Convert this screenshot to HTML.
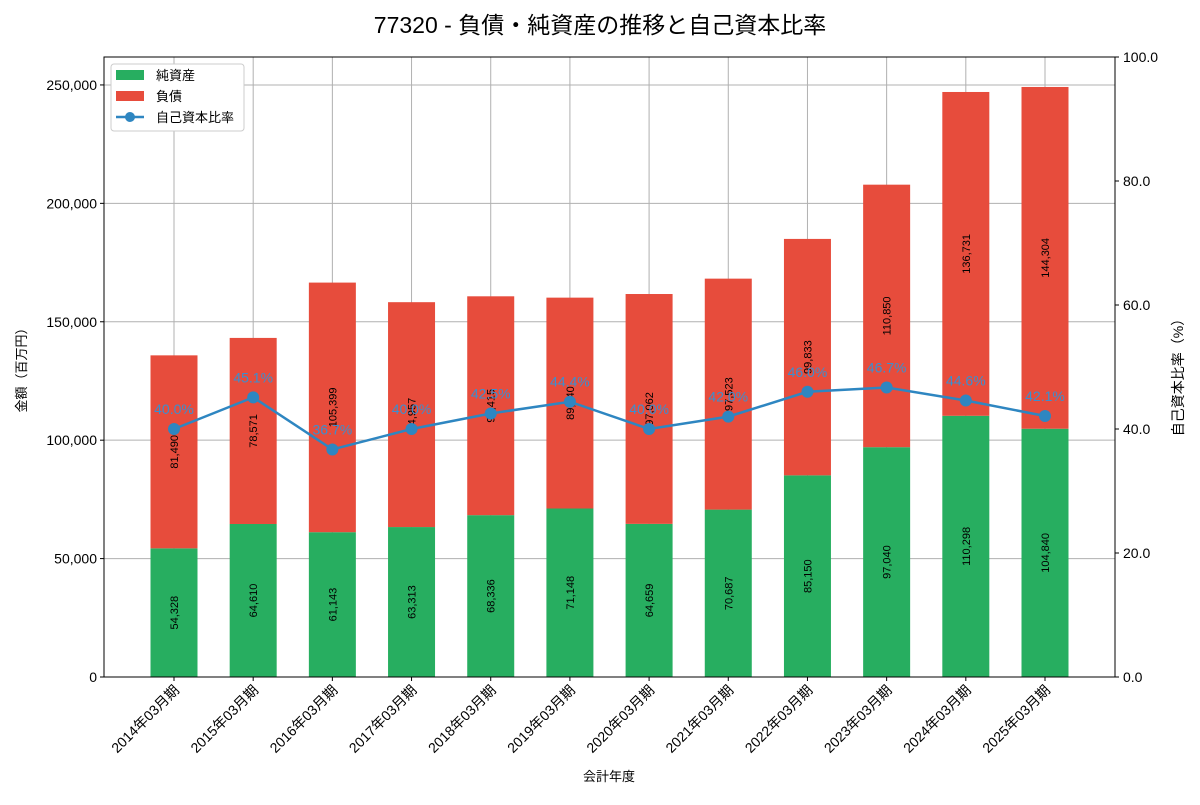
<!DOCTYPE html>
<html><head><meta charset="utf-8"><style>
body{margin:0;background:#fff;font-family:"Liberation Sans","Noto Sans CJK JP",sans-serif;}
</style></head><body>
<svg id="c" width="1200" height="800" xmlns="http://www.w3.org/2000/svg" font-family="Liberation Sans, Noto Sans CJK JP, sans-serif"></svg>
<script>
const categories=["2014年03月期","2015年03月期","2016年03月期","2017年03月期","2018年03月期","2019年03月期","2020年03月期","2021年03月期","2022年03月期","2023年03月期","2024年03月期","2025年03月期"];
const equity=[54328,64610,61143,63313,68336,71148,64659,70687,85150,97040,110298,104840];
const liabilities=[81490,78571,105399,94957,92415,89040,97062,97523,99833,110850,136731,144304];
const ratio=[40.0,45.1,36.7,40.0,42.5,44.4,40.0,42.0,46.0,46.7,44.6,42.1];
const leftTicks=[0,50000,100000,150000,200000,250000];
const rightTicks=[0,20,40,60,80,100];
const L=104,R=1115,T=57,B=677,YMAX=261800;
const svg=document.getElementById('c');const NS='http://www.w3.org/2000/svg';
function el(t,a,txt){const e=document.createElementNS(NS,t);for(const k in a)e.setAttribute(k,a[k]);if(txt!==undefined)e.textContent=txt;svg.appendChild(e);return e;}
const y=v=>B-v/YMAX*(B-T);
const yr=v=>B-v/100*(B-T);
const X0=174,X1=1045;
const x=i=>X0+(X1-X0)*i/(categories.length-1);
const fmt=v=>v.toLocaleString('en-US');
let t=el('text',{x:600,y:33,'font-size':23,'text-anchor':'middle'},'77320 - 負債・純資産の推移と自己資本比率');

categories.forEach((c,i)=>{let g=el('line',{x1:x(i),x2:x(i),y1:T,y2:B,stroke:'#b0b0b0','stroke-width':1});});
leftTicks.forEach(v=>{let g=el('line',{x1:L,x2:R,y1:y(v),y2:y(v),stroke:'#b0b0b0','stroke-width':1});
let tk=el('line',{x1:L-4,x2:L,y1:y(v),y2:y(v),stroke:'#000'});
let l=el('text',{x:L-7,y:y(v)+5,'font-size':14,'text-anchor':'end'},fmt(v));});
rightTicks.forEach(v=>{let tk=el('line',{x1:R,x2:R+4,y1:yr(v),y2:yr(v),stroke:'#000'});
let l=el('text',{x:R+8,y:yr(v)+5,'font-size':14},v.toFixed(1));});
const bw=47;
categories.forEach((c,i)=>{
let b1=el('rect',{x:x(i)-bw/2,y:y(equity[i]),width:bw,height:B-y(equity[i]),fill:'#27ae60'});
let top=equity[i]+liabilities[i];
let b2=el('rect',{x:x(i)-bw/2,y:y(top),width:bw,height:y(equity[i])-y(top),fill:'#e74c3c'});
let m1=(y(0)+y(equity[i]))/2,m2=(y(equity[i])+y(top))/2;
let l1=el('text',{x:0,y:0,'font-size':11,'text-anchor':'middle',transform:`translate(${x(i)+4},${m1}) rotate(-90)`},fmt(equity[i]));
let l2=el('text',{x:0,y:0,'font-size':11,'text-anchor':'middle',transform:`translate(${x(i)+4},${m2}) rotate(-90)`},fmt(liabilities[i]));
let tk=el('line',{x1:x(i),x2:x(i),y1:B,y2:B+4,stroke:'#000'});
let xl=el('text',{x:0,y:0,'font-size':14,'text-anchor':'end',transform:`translate(${x(i)+6},${B+14}) rotate(-45)`},c);
});
let pts=ratio.map((v,i)=>x(i)+','+yr(v)).join(' ');
let pl=el('polyline',{points:pts,fill:'none',stroke:'#2e86c1','stroke-width':2.5});
ratio.forEach((v,i)=>{let c=el('circle',{cx:x(i),cy:yr(v),r:6,fill:'#2e86c1'});
let l=el('text',{x:x(i),y:yr(v)-15,'font-size':14,'text-anchor':'middle',fill:'#3a8fd0'},v.toFixed(1)+'%');});
let fr=el('rect',{x:L,y:T,width:R-L,height:B-T,fill:'none',stroke:'#000','stroke-width':1});
let a=el('text',{x:0,y:0,'font-size':13,'text-anchor':'middle',transform:'translate(26,367) rotate(-90)'},'金額（百万円）');
a=el('text',{x:0,y:0,'font-size':14,'text-anchor':'middle',transform:'translate(1183,374) rotate(-90)'},'自己資本比率（%）');
a=el('text',{x:609,y:781,'font-size':13,'text-anchor':'middle'},'会計年度');
let lg=el('rect',{x:111,y:64,width:133,height:67,fill:'#fff',stroke:'#ccc',rx:3});
let r=el('rect',{x:116,y:70,width:28,height:10,fill:'#27ae60'});
a=el('text',{x:156,y:80,'font-size':13},'純資産');
r=el('rect',{x:116,y:91,width:28,height:10,fill:'#e74c3c'});
a=el('text',{x:156,y:101,'font-size':13},'負債');
r=el('line',{x1:116,x2:144,y1:117,y2:117,stroke:'#2e86c1','stroke-width':2.5});
r=el('circle',{cx:130,cy:117,r:5,fill:'#2e86c1'});
a=el('text',{x:156,y:122,'font-size':13},'自己資本比率');
</script>
</body></html>
